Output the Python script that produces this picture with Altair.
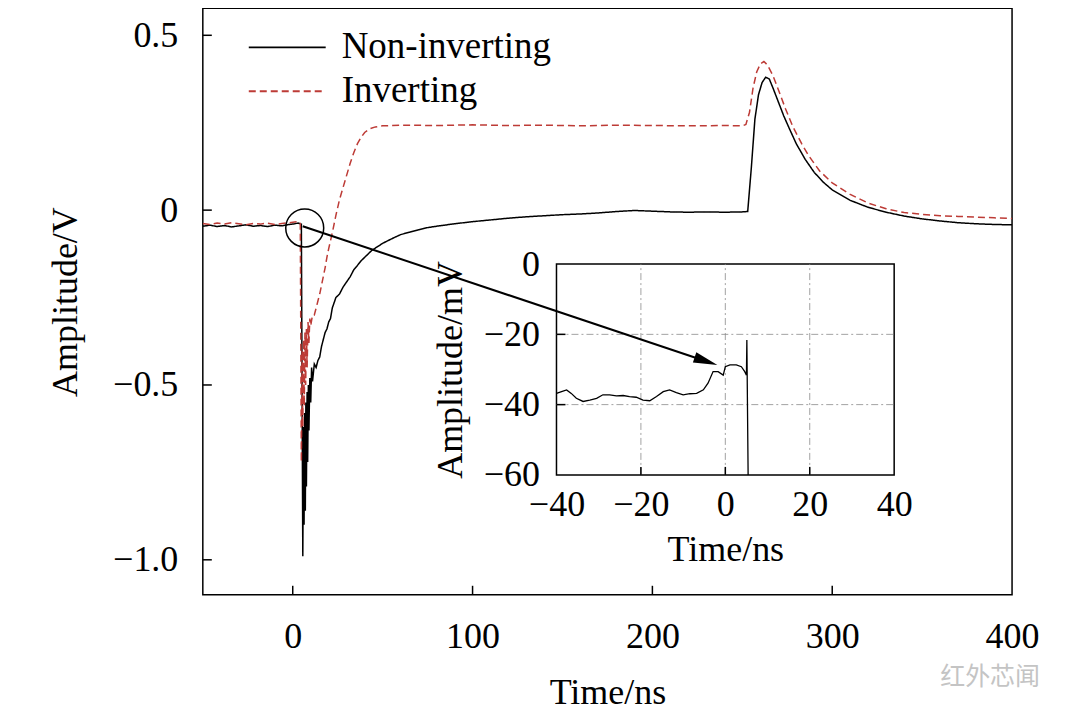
import altair as alt
import pandas as pd

# Main traces: time (ns) and amplitude (V)
t_noninv = [-50, -46, -42, -38, -34, -30, -26, -22, -18, -14, -10, -6, -2, 1, 3, 4.8,
            5.6, 6.0, 6.3, 6.6, 7.0, 7.3, 7.6, 8.0, 8.3, 8.7, 9.0, 9.5, 10, 10.5, 11, 12,
            13, 14, 15, 16, 17, 18, 19, 20, 21, 22, 23, 24, 26, 28, 30, 32, 34, 36, 38,
            40, 42, 44, 47, 50, 55, 60, 65, 70, 75, 80, 90, 100, 110, 120, 130, 140, 150,
            160, 170, 180, 190, 200, 210, 220, 230, 240, 250, 253, 255, 257, 259, 261,
            263, 265, 267, 270, 273, 276, 280, 285, 290, 295, 300, 310, 320, 330, 340,
            350, 360, 370, 380, 390, 400]
v_noninv = [-0.046, -0.043, -0.047, -0.044, -0.048, -0.045, -0.042, -0.046, -0.044, -0.047,
            -0.043, -0.045, -0.041, -0.039, -0.037, -0.040,
            -0.99, -0.62, -0.90, -0.58, -0.86, -0.55, -0.79, -0.52, -0.72, -0.50, -0.63,
            -0.48, -0.55, -0.45, -0.49, -0.44,
            -0.45, -0.43, -0.42, -0.39, -0.37, -0.35, -0.34, -0.32, -0.31, -0.28, -0.265,
            -0.25, -0.24, -0.22, -0.205, -0.19, -0.17, -0.158, -0.145,
            -0.135, -0.125, -0.115, -0.105, -0.095, -0.082, -0.07, -0.063, -0.056, -0.05,
            -0.046, -0.039, -0.033, -0.028, -0.023, -0.019, -0.016, -0.013,
            -0.011, -0.008, -0.004, -0.001, -0.003, -0.005, -0.006, -0.005, -0.006, -0.005,
            -0.004, 0.12, 0.26, 0.33, 0.365,
            0.38, 0.375, 0.35, 0.31, 0.27, 0.235, 0.19, 0.145, 0.108, 0.08, 0.058, 0.028,
            0.008, -0.006, -0.017,
            -0.025, -0.031, -0.036, -0.039, -0.041, -0.042]

t_inv = [-50, -46, -42, -38, -34, -30, -26, -22, -18, -14, -10, -6, -2, 1, 3, 4.2,
         4.8, 5.2, 5.6, 6.0, 6.4, 6.8, 7.2, 7.6, 8.0, 8.5, 9.0, 9.5, 10, 11, 12, 13, 14,
         15, 16, 17, 18, 19, 20, 22, 24, 26, 28, 30, 32, 34, 36, 38, 40, 43, 46, 50, 60,
         80, 100, 120, 140, 160, 180, 200, 220, 240, 250, 252, 254, 256, 258, 260, 262,
         264, 267, 270, 274, 278, 283, 287, 293, 300, 310, 320, 330, 340, 350, 360, 370,
         380, 390, 400]
v_inv = [-0.038, -0.041, -0.037, -0.040, -0.036, -0.039, -0.042, -0.038, -0.040, -0.037,
         -0.041, -0.038, -0.036, -0.034, -0.033, -0.036,
         -0.72, -0.40, -0.62, -0.37, -0.56, -0.35, -0.50, -0.34, -0.45, -0.32, -0.38, -0.31,
         -0.33, -0.30, -0.30, -0.28, -0.26,
         -0.24, -0.215, -0.19, -0.165, -0.135, -0.11, -0.065, -0.015, 0.03, 0.065, 0.10,
         0.135, 0.165, 0.19, 0.208, 0.222, 0.233, 0.238, 0.241, 0.243,
         0.242, 0.244, 0.242, 0.243, 0.241, 0.243, 0.242, 0.241, 0.242, 0.241, 0.245, 0.28,
         0.35, 0.395, 0.418, 0.425,
         0.415, 0.385, 0.345, 0.29, 0.24, 0.19, 0.155, 0.112, 0.078, 0.045, 0.02, 0.004,
         -0.007, -0.012, -0.016, -0.018,
         -0.02, -0.022, -0.024]

# Inset: trigger edge of the non-inverting trace, time (ns) and amplitude (mV)
t_zoom = [-40, -38.8, -37.6, -36.5, -35.3, -33.7, -32.1, -30.5, -29, -27.4, -25.8, -24.2,
          -22.7, -21.1, -19.5, -17.9, -16.3, -14.7, -13.2, -11.6, -10, -8.4, -6.8, -5.2,
          -4.1, -2.9, -1.7, -0.5, 0, 1.1, 2.6, 3.8, 4.6, 5.0, 5.1, 5.4]
v_zoom = [-36.8, -36.3, -35.8, -36.8, -38.2, -39.1, -38.7, -38.2, -37.2, -37.2, -37.5, -37.4,
          -37.7, -37.9, -38.7, -38.9, -37.7, -36.3, -35.8, -36.6, -37.2, -36.9, -36.8, -35.8,
          -33.9, -30.6, -30.6, -31.6, -29.2, -28.7, -28.7, -29.2, -30.6, -31.6, -21.6, -60]

series_names = ["Non-inverting", "Inverting"]
series_colors = ["#000000", "#bd3b36"]
series_dashes = [[1, 0], [7, 4]]

main_x_ticks = [0, 100, 200, 300, 400]
main_y_ticks = [-1.0, -0.5, 0, 0.5]
zoom_x_ticks = [-40, -20, 0, 20, 40]
zoom_y_ticks = [0, -20, -40, -60]
zoom_x_grid = [-20, 0, 20]
zoom_y_grid = [-20, -40]

FONT = "Liberation Serif"
W, H = 810, 587
XMIN, XMAX = -50, 400
YMIN, YMAX = -1.1, 0.5771
ZX_RANGE = [354, 692]   # inset plot area inside the main view, px
ZY_RANGE = [467, 256]
ZXMIN, ZXMAX, ZYMIN, ZYMAX = -40, 40, -60, 0

px_x = (XMAX - XMIN) / W      # data units per pixel, main chart
px_y = (YMAX - YMIN) / H
zpx_x = (ZXMAX - ZXMIN) / (ZX_RANGE[1] - ZX_RANGE[0])
zpx_y = (ZYMAX - ZYMIN) / (ZY_RANGE[0] - ZY_RANGE[1])

df = pd.concat([
    pd.DataFrame({"t": t_noninv, "v": v_noninv, "series": "Non-inverting"}),
    pd.DataFrame({"t": t_inv, "v": v_inv, "series": "Inverting"}),
])
dz = pd.DataFrame({"t": t_zoom, "v": v_zoom})

x_scale = alt.Scale(domain=[XMIN, XMAX], nice=False, zero=False)
y_scale = alt.Scale(domain=[YMIN, YMAX], nice=False, zero=False)
x_axis = alt.Axis(values=main_x_ticks, ticks=False, domain=False, grid=False,
                  labelFlush=False, labelPadding=25, title="Time/ns", titlePadding=21)
y_axis = alt.Axis(values=main_y_ticks, ticks=False, domain=False, grid=False,
                  labelFlush=False, labelPadding=25, title="Amplitude/V", titlePadding=28,
                  labelExpr="datum.value == 0 ? '0' : format(datum.value, '.1f')")


def mx(field, axis=x_axis):
    return alt.X(field, type="quantitative", scale=x_scale, axis=axis)


def my(field, axis=y_axis):
    return alt.Y(field, type="quantitative", scale=y_scale, axis=axis)


color_enc = alt.Color("series:N", scale=alt.Scale(domain=series_names, range=series_colors),
                      legend=alt.Legend(title=None, orient="none", legendX=45, legendY=21,
                                        symbolType="stroke", symbolSize=5929,
                                        symbolStrokeWidth=1.8, clipHeight=36, rowPadding=7,
                                        labelOffset=15, labelFontSize=37, labelFont=FONT,
                                        labelLimit=0, padding=0))
dash_enc = alt.StrokeDash("series:N", scale=alt.Scale(domain=series_names, range=series_dashes),
                          legend=alt.Legend(title=None))

black_line = alt.Chart(df[df.series == "Non-inverting"]).mark_line(
    strokeWidth=1.5, clip=True).encode(x=mx("t"), y=my("v"), color=color_enc, strokeDash=dash_enc)
red_line = alt.Chart(df[df.series == "Inverting"]).mark_line(
    strokeWidth=1.5, clip=True).encode(x=mx("t"), y=my("v"), color=color_enc, strokeDash=dash_enc)

# inward ticks of the main frame
xt = pd.DataFrame({"t": main_x_ticks[:-1]})
xt["v"] = YMIN
xt["v2"] = YMIN + 9 * px_y
yt = pd.DataFrame({"v": main_y_ticks})
yt["t"] = XMIN
yt["t2"] = XMIN + 9 * px_x
x_ticks = alt.Chart(xt).mark_rule(color="black", strokeWidth=1.5).encode(
    x=mx("t"), y=my("v"), y2="v2:Q")
y_ticks = alt.Chart(yt).mark_rule(color="black", strokeWidth=1.5).encode(
    x=mx("t"), x2="t2:Q", y=my("v"))

mark_wm = alt.Chart(pd.DataFrame({"t": [387.8], "v": [-1.334], "s": ["红外芯闻"]})).mark_text(
    font="Noto Sans CJK SC", fontSize=25, color="#c4c4c4", align="center", baseline="middle"
).encode(x=mx("t"), y=my("v"), text="s:N")

main = alt.layer(black_line, red_line, x_ticks, y_ticks, mark_wm)

# inset
zx_scale = alt.Scale(domain=[ZXMIN, ZXMAX], range=ZX_RANGE, nice=False, zero=False)
zy_scale = alt.Scale(domain=[ZYMIN, ZYMAX], range=ZY_RANGE, nice=False, zero=False)
zx_axis = alt.Axis(orient="bottom", offset=ZY_RANGE[0] - H, values=zoom_x_ticks, ticks=False,
                   domain=False, grid=False, labelFlush=False, labelPadding=13,
                   title="Time/ns", titlePadding=10)
zy_axis = alt.Axis(orient="left", offset=-ZX_RANGE[0], values=zoom_y_ticks, ticks=False,
                   domain=False, grid=False, labelFlush=False, labelPadding=17,
                   title="Amplitude/mV", titlePadding=14)


def zx(field):
    return alt.X(field, type="quantitative", scale=zx_scale, axis=zx_axis)


def zy(field):
    return alt.Y(field, type="quantitative", scale=zy_scale, axis=zy_axis)


frame = alt.Chart(pd.DataFrame({"t": [ZXMIN], "t2": [ZXMAX], "v": [ZYMIN], "v2": [ZYMAX]})
                  ).mark_rect(fill="white", stroke="black", strokeWidth=1.5).encode(
    x=zx("t"), x2="t2:Q", y=zy("v"), y2="v2:Q")

gx = pd.DataFrame({"t": zoom_x_grid})
gx["v"] = ZYMIN
gx["v2"] = ZYMAX
gy = pd.DataFrame({"v": zoom_y_grid})
gy["t"] = ZXMIN
gy["t2"] = ZXMAX
grid_x = alt.Chart(gx).mark_rule(color="#8a8a8a", strokeWidth=0.8, strokeDash=[7, 3, 2, 3]).encode(
    x=zx("t"), y=zy("v"), y2="v2:Q")
grid_y = alt.Chart(gy).mark_rule(color="#8a8a8a", strokeWidth=0.8, strokeDash=[7, 3, 2, 3]).encode(
    x=zx("t"), x2="t2:Q", y=zy("v"))

zt_x = pd.DataFrame({"t": zoom_x_grid})
zt_x["v"] = ZYMIN
zt_x["v2"] = ZYMIN + 8 * zpx_y
zt_y = pd.DataFrame({"v": zoom_y_grid})
zt_y["t"] = ZXMIN
zt_y["t2"] = ZXMIN + 9 * zpx_x
ztick_x = alt.Chart(zt_x).mark_rule(color="black", strokeWidth=1.5).encode(
    x=zx("t"), y=zy("v"), y2="v2:Q")
ztick_y = alt.Chart(zt_y).mark_rule(color="black", strokeWidth=1.5).encode(
    x=zx("t"), x2="t2:Q", y=zy("v"))

zline = alt.Chart(dz).mark_line(color="black", strokeWidth=1.3, clip=True).encode(
    x=zx("t"), y=zy("v"))

inset = alt.layer(frame, grid_x, grid_y, ztick_x, ztick_y, zline)

# circle marking the zoomed region and the arrow into the inset, drawn last
circ = alt.Chart(pd.DataFrame({"t": [6.67], "v": [-0.051]})).mark_point(
    shape="circle", size=1444, filled=False, color="black", strokeWidth=1.5, opacity=1
).encode(x=mx("t", None), y=my("v", None))
arrow = alt.Chart(pd.DataFrame({"t": [5.56], "v": [-0.046], "t2": [229.8], "v2": [-0.432]})
                  ).mark_rule(color="black", strokeWidth=2).encode(
    x=mx("t", None), y=my("v", None), x2="t2:Q", y2="v2:Q")
head = alt.Chart(pd.DataFrame({"t": [229.8], "v": [-0.432]})).mark_point(
    shape="M1,0L-1,-0.45L-1,0.45Z", size=576, angle=18.5, filled=True, color="black",
    opacity=1).encode(x=mx("t", None), y=my("v", None))

notes = alt.layer(circ, arrow, head)

chart = alt.layer(main, inset, notes).resolve_scale(
    x="independent", y="independent"
).properties(
    width=W, height=H,
    autosize=alt.AutoSizeParams(type="none"),
    padding={"left": 195, "top": 0, "right": 60, "bottom": 117},
    background="white",
).configure_view(
    stroke="black", strokeWidth=1.5
).configure_axis(
    labelFont=FONT, labelFontSize=36, labelColor="black",
    titleFont=FONT, titleFontSize=36, titleFontWeight="normal", titleColor="black",
)

chart.save("out.html", embed_options={"renderer": "svg", "actions": False})
